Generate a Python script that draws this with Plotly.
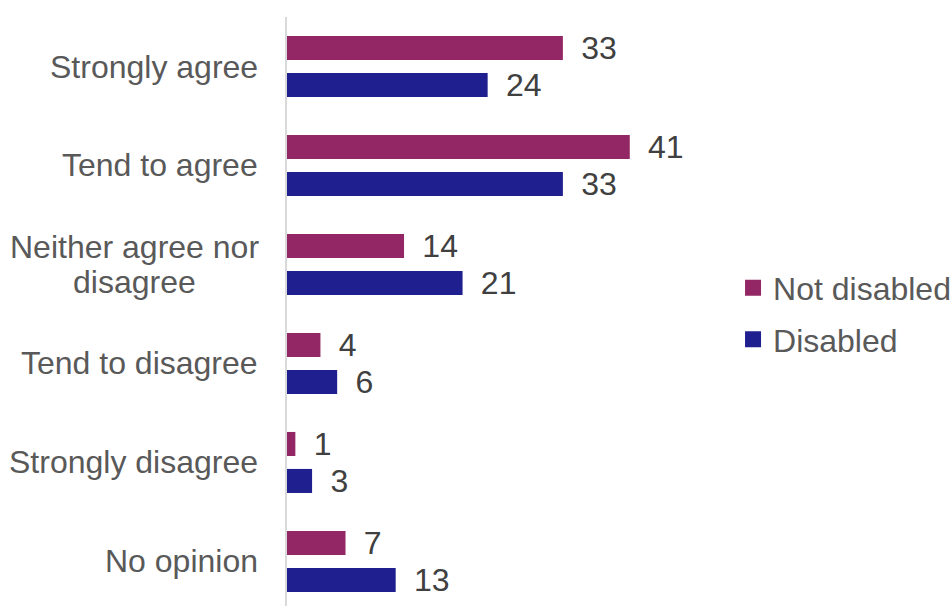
import plotly.graph_objects as go

categories = ["Strongly agree", "Tend to agree", "Neither agree nor<br>disagree",
              "Tend to disagree", "Strongly disagree", "No opinion"]
series_names = ["Not disabled", "Disabled"]
not_disabled = [33, 41, 14, 4, 1, 7]
disabled = [24, 33, 21, 6, 3, 13]
colors = ["#932765", "#1F1F8F"]

FONT = "Liberation Sans, Arial, sans-serif"
LABEL_FMT = "\u00a0\u2009%{x}"
FS = 32

fig = go.Figure()
for name, vals, col in zip(series_names, [not_disabled, disabled], colors):
    fig.add_trace(go.Bar(
        y=categories, x=vals, orientation="h", name=name,
        marker=dict(color=col, line=dict(width=0)),
        text=vals, texttemplate=LABEL_FMT, textposition="outside",
        textfont=dict(size=FS, color="#404040", family=FONT),
        constraintext="none", cliponaxis=False, showlegend=False,
    ))

# legend entries with larger square swatches
for i, (name, col) in enumerate(zip(series_names, colors)):
    fig.add_trace(go.Scatter(
        x=[None], y=[None], mode="markers", name=name,
        marker=dict(symbol="square", size=16, color=col),
        legendgroup=str(i), showlegend=True,
    ))

# category labels: single-line ones right-aligned, wrapped ones centred
LINE_H = 35
for cat in categories:
    lines = cat.split("<br>")
    n = len(lines)
    for i, line in enumerate(lines):
        shift = ((n - 1) / 2 - i) * LINE_H
        if n == 1:
            anchor, xs = "right", -27
        else:
            anchor, xs = "center", -153
        fig.add_annotation(
            x=0, xref="paper", y=cat, yref="y", text=line, showarrow=False,
            xanchor=anchor, xshift=xs, yshift=shift,
            font=dict(size=FS, color="#595959", family=FONT),
        )

fig.update_layout(
    width=951, height=606,
    margin=dict(l=287, r=251, t=17, b=0, autoexpand=False),
    paper_bgcolor="white", plot_bgcolor="white",
    barmode="group", bargap=0.253, bargroupgap=0.35,
    font=dict(family=FONT, size=FS, color="#595959"),
    legend=dict(
        x=1.08, xanchor="left", y=0.496, yanchor="middle",
        traceorder="grouped", tracegroupgap=7,
        font=dict(size=FS, color="#595959", family=FONT),
        bgcolor="rgba(0,0,0,0)",
    ),
    showlegend=True,
)
fig.update_xaxes(range=[0, 49.4], visible=False, showgrid=False, zeroline=False)
fig.update_yaxes(
    type="category", range=[5.45, -0.5], showticklabels=False, ticks="",
    showgrid=False, zeroline=False,
    showline=True, linecolor="#D9D9D9", linewidth=2,
)

fig.write_html("out.html")
